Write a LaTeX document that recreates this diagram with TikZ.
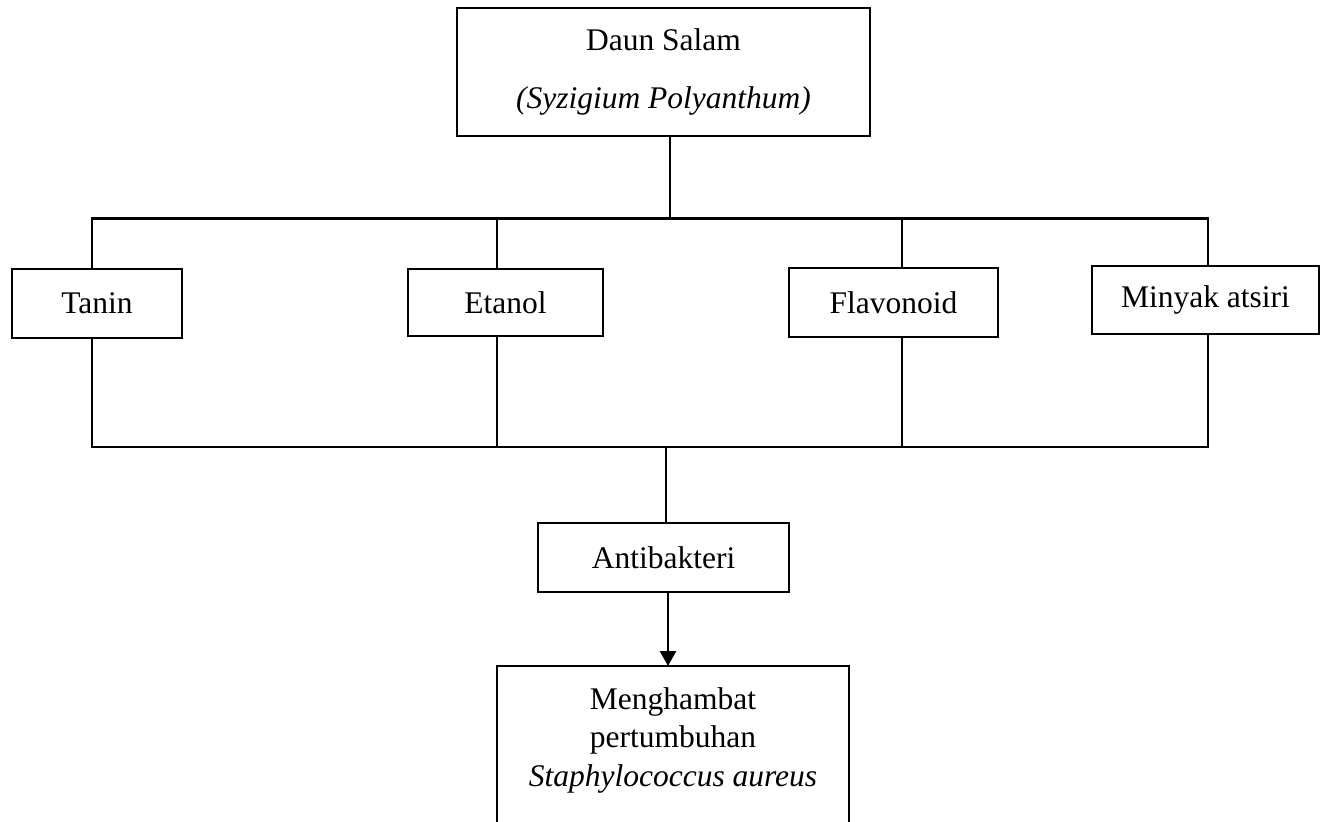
\documentclass[tikz,border=0pt]{standalone}
\usepackage{fontspec}
\setmainfont{Liberation Serif}
\usetikzlibrary{arrows.meta}
\begin{document}
\begin{tikzpicture}[x=1pt,y=-1pt,
  box/.style={draw=black, line width=1.3pt, inner sep=0pt, outer sep=0pt, align=center},
  txt/.style={font=\fontsize{31.5}{38.5}\selectfont},
  conn/.style={line width=2.8pt, line cap=rect},
  arr/.style={line width=2.8pt, -{Triangle[length=15pt,width=16pt]}}]
\useasboundingbox (0,0) rectangle (1321,821);
\clip (0,0) rectangle (1321,821);
\fill[white] (0,0) rectangle (1321,821);
% boxes
\node[box, txt, minimum width=413, minimum height=128] (top) at (663.5,72)
  {Daun Salam\\[20pt]\textit{(Syzigium Polyanthum)}};
\node[box, txt, minimum width=170, minimum height=69] (tanin) at (97,303.5) {Tanin};
\node[box, txt, minimum width=195, minimum height=67] (etanol) at (505.5,302.5) {Etanol};
\node[box, txt, minimum width=209, minimum height=69] (flav) at (893.5,302.5) {Flavonoid};
\node[box, txt, minimum width=227, minimum height=68] (minyak) at (1205.5,300) {Minyak atsiri};
\node[box, txt, minimum width=251, minimum height=69] (anti) at (663.5,557.5) {Antibakteri};
\node[box, minimum width=352, minimum height=240, anchor=north] (meng) at (673,666) {};
\node[txt, align=center, anchor=north, inner sep=0pt] (mtext) at ([yshift=-21pt]meng.north)
  {Menghambat\\pertumbuhan\\\textit{Staphylococcus aureus}};
% bus coordinates
\coordinate (t0) at (670,218.5);
\coordinate (t1) at (92,218.5);
\coordinate (t2) at (497,218.5);
\coordinate (t3) at (902,218.5);
\coordinate (t4) at (1208,218.5);
\coordinate (b0) at (666,447);
\coordinate (b1) at (92,447);
\coordinate (b2) at (497,447);
\coordinate (b3) at (902,447);
\coordinate (b4) at (1208,447);
% top connectors
\draw[conn] (top.south -| t0) -- (t0);
\draw[conn] (t1) -- (t4);
\draw[conn] (t1) -- (t1 |- tanin.north);
\draw[conn] (t2) -- (t2 |- etanol.north);
\draw[conn] (t3) -- (t3 |- flav.north);
\draw[conn] (t4) -- (t4 |- minyak.north);
% bottom connectors
\draw[conn] (b1 |- tanin.south) -- (b1);
\draw[conn] (b2 |- etanol.south) -- (b2);
\draw[conn] (b3 |- flav.south) -- (b3);
\draw[conn] (b4 |- minyak.south) -- (b4);
\draw[conn] (b1) -- (b4);
\draw[conn] (b0) -- (b0 |- anti.north);
% arrow
\coordinate (a0) at (668,0);
\draw[arr] (a0 |- anti.south) -- (a0 |- meng.north);
\end{tikzpicture}
\end{document}
